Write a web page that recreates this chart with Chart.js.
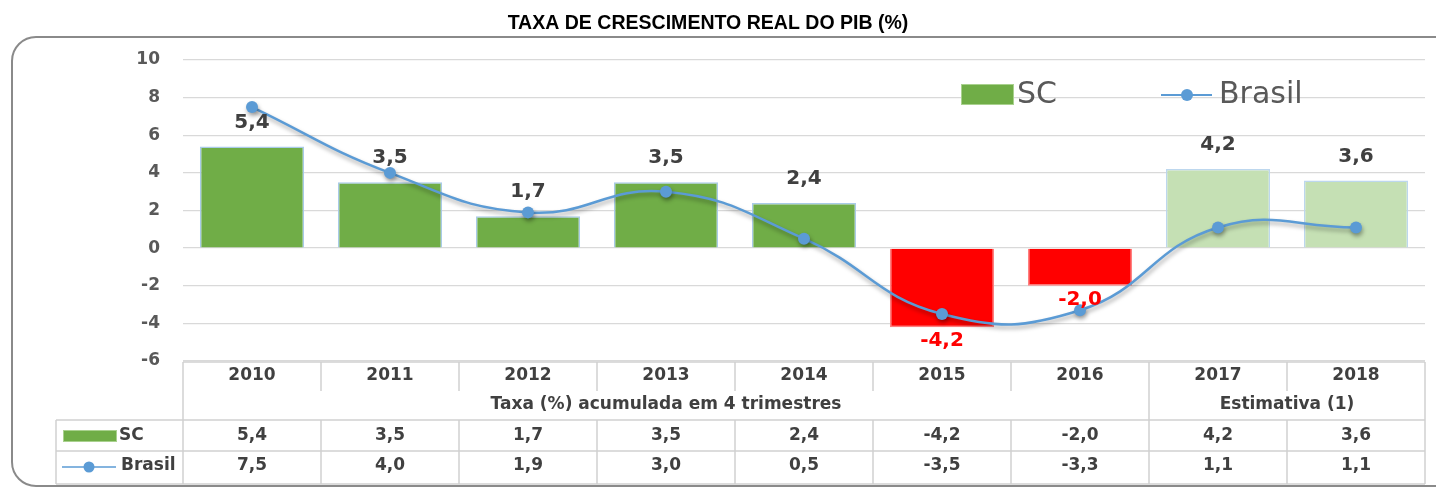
<!DOCTYPE html>
<html>
<head>
<meta charset="utf-8">
<script src="https://cdn.jsdelivr.net/npm/chart.js@4.4.0/dist/chart.umd.min.js"></script>
<style>
html,body{margin:0;padding:0;background:#fff;}
#wrap{width:1436px;height:488px;position:relative;}
canvas{display:block;}
</style>
</head>
<body>
<div id="wrap"><canvas id="c" width="1436" height="488"></canvas></div>
<script>
// ---- data ----
const chartTitle = 'TAXA DE CRESCIMENTO REAL DO PIB (%)';
const years = ['2010','2011','2012','2013','2014','2015','2016','2017','2018'];
const scValues = [5.4, 3.5, 1.7, 3.5, 2.4, -4.2, -2.0, 4.2, 3.6];
const brasilValues = [7.5, 4.0, 1.9, 3.0, 0.5, -3.5, -3.3, 1.1, 1.1];
const estimateYears = ['2017', '2018'];
const seriesNames = ['SC', 'Brasil'];
const groupLabels = ['Taxa (%) acumulada em 4 trimestres', 'Estimativa (1)'];
const yMin = -6, yMax = 10, yStep = 2;

// ---- styles ----
const GREEN = '#70AD47', LIGHT_GREEN = '#C5E0B4', RED = '#FF0000', BLUE = '#5B9BD5';
const TEXT = '#404040', AXIS_TEXT = '#595959', GRID = '#D9D9D9', TABLE_LINE = '#D0D0D0';
const FONT = '"DejaVu Sans", sans-serif';
const fmt = v => v.toFixed(1).replace('.', ',');
const isEstimate = i => estimateYears.includes(years[i]);
const barFill = scValues.map((v, i) => isEstimate(i) ? LIGHT_GREEN : (v < 0 ? RED : GREEN));
const barBorder = scValues.map((v, i) => isEstimate(i) ? '#BDD7EE' : (v < 0 ? '#FF8080' : '#A9CBE8'));

const framePlugin = {
  id: 'frame',
  beforeDraw(chart) {
    const ctx = chart.ctx;
    ctx.save();
    ctx.fillStyle = '#fff';
    ctx.fillRect(0, 0, chart.width, chart.height);
    ctx.strokeStyle = '#8A8A8A';
    ctx.lineWidth = 2;
    ctx.beginPath();
    ctx.roundRect(12, 37, 1460, 449, 24);
    ctx.stroke();
    // title (condensed)
    ctx.fillStyle = '#000';
    ctx.font = 'bold 21px "Liberation Sans", Arial, sans-serif';
    ctx.textAlign = 'center';
    ctx.textBaseline = 'middle';
    ctx.translate(708, 23);
    ctx.scale(0.93, 1);
    ctx.fillText(chartTitle, 0, 0);
    ctx.restore();
  }
};

const shadowPlugin = {
  id: 'lineShadow',
  beforeDatasetDraw(chart, args) {
    if (args.index === 0) {
      const ctx = chart.ctx;
      ctx.save();
      ctx.shadowColor = 'rgba(0,0,0,0.35)';
      ctx.shadowBlur = 4;
      ctx.shadowOffsetX = 1;
      ctx.shadowOffsetY = 3;
    }
  },
  afterDatasetDraw(chart, args) {
    if (args.index === 0) chart.ctx.restore();
  }
};

const labelsLegendPlugin = {
  id: 'labelsLegend',
  afterDatasetsDraw(chart) {
    const ctx = chart.ctx;
    ctx.save();
    // bar value labels
    const meta = chart.getDatasetMeta(1);
    ctx.font = 'bold 20px ' + FONT;
    ctx.textAlign = 'center';
    ctx.textBaseline = 'middle';
    meta.data.forEach((bar, i) => {
      const v = scValues[i];
      ctx.fillStyle = v < 0 ? RED : TEXT;
      ctx.fillText(fmt(v), bar.x, v >= 0 ? bar.y - 24 : bar.y + 14);
    });
    // legend inside plot
    ctx.fillStyle = GREEN;
    ctx.fillRect(961, 84, 53, 21);
    ctx.strokeStyle = '#A9D18E';
    ctx.lineWidth = 1;
    ctx.strokeRect(961.5, 84.5, 52, 20);
    ctx.font = '30px ' + FONT;
    ctx.textAlign = 'left';
    ctx.fillStyle = AXIS_TEXT;
    ctx.fillText(seriesNames[0], 1017, 95);
    ctx.strokeStyle = BLUE;
    ctx.lineWidth = 2;
    ctx.beginPath(); ctx.moveTo(1161, 95); ctx.lineTo(1212, 95); ctx.stroke();
    ctx.fillStyle = BLUE;
    ctx.beginPath(); ctx.arc(1187, 95, 6, 0, Math.PI * 2); ctx.fill();
    ctx.fillStyle = AXIS_TEXT;
    ctx.fillText(seriesNames[1], 1219, 95);
    ctx.restore();
  }
};

const tablePlugin = {
  id: 'dataTable',
  afterDraw(chart) {
    const ctx = chart.ctx;
    const ca = chart.chartArea;
    const xs = chart.scales.x;
    const n = years.length;
    const cw = (ca.right - ca.left) / n;
    const L = ca.left, R = ca.right, T = ca.bottom + 1;
    const yYear = T + 29, yGroup = T + 58, ySc = T + 89, yBr = T + 122;
    const LL = 56;
    const split = years.indexOf(estimateYears[0]);
    ctx.save();
    ctx.strokeStyle = TABLE_LINE;
    ctx.lineWidth = 1.5;
    const line = (x1, y1, x2, y2) => { ctx.beginPath(); ctx.moveTo(x1, y1); ctx.lineTo(x2, y2); ctx.stroke(); };
    line(L, T, R, T);
    line(LL, yGroup, R, yGroup);
    line(LL, ySc, R, ySc);
    line(LL, yBr, R, yBr);
    line(L, T, L, yBr);
    line(R, T, R, yBr);
    line(LL, yGroup, LL, yBr);
    for (let i = 1; i < n; i++) {
      const bx = L + i * cw;
      line(bx, T, bx, i === split ? yGroup : yYear);
      line(bx, yGroup, bx, yBr);
    }
    ctx.fillStyle = TEXT;
    ctx.font = 'bold 17px ' + FONT;
    ctx.textAlign = 'center';
    ctx.textBaseline = 'middle';
    years.forEach((yr, i) => {
      const cx = xs.getPixelForValue(i);
      ctx.fillText(yr, cx, T + 14);
      ctx.fillText(fmt(scValues[i]), cx, T + 74);
      ctx.fillText(fmt(brasilValues[i]), cx, T + 104);
    });
    const splitX = L + split * cw;
    ctx.fillText(groupLabels[0], (L + splitX) / 2, T + 43);
    ctx.fillText(groupLabels[1], (splitX + R) / 2, T + 43);
    // row keys
    ctx.fillStyle = GREEN;
    ctx.fillRect(63, 430, 54, 12);
    ctx.strokeStyle = '#A9D18E';
    ctx.lineWidth = 1;
    ctx.strokeRect(63.5, 430.5, 53, 11);
    ctx.strokeStyle = BLUE;
    ctx.lineWidth = 1.5;
    line(62, T + 105, 116, T + 105);
    ctx.fillStyle = BLUE;
    ctx.beginPath(); ctx.arc(89, T + 105, 5.5, 0, Math.PI * 2); ctx.fill();
    ctx.fillStyle = TEXT;
    ctx.textAlign = 'left';
    ctx.fillText(seriesNames[0], 119, T + 74);
    ctx.fillText(seriesNames[1], 121, T + 104);
    ctx.restore();
  }
};

new Chart(document.getElementById('c'), {
  type: 'bar',
  data: {
    labels: years,
    datasets: [
      {
        type: 'line',
        label: seriesNames[1],
        data: brasilValues,
        borderColor: BLUE,
        borderWidth: 2.5,
        backgroundColor: BLUE,
        pointRadius: 6,
        pointBackgroundColor: BLUE,
        pointBorderColor: BLUE,
        pointBorderWidth: 0,
        tension: 0.45,
        fill: false,
        order: 0
      },
      {
        type: 'bar',
        label: seriesNames[0],
        data: scValues,
        backgroundColor: barFill,
        borderColor: barBorder,
        borderWidth: 1.5,
        barPercentage: 0.755,
        categoryPercentage: 1,
        order: 1
      }
    ]
  },
  options: {
    responsive: false,
    animation: false,
    devicePixelRatio: 1,
    layout: { padding: { top: 60, right: 11, bottom: 127, left: 0 } },
    plugins: { legend: { display: false }, tooltip: { enabled: false }, title: { display: false } },
    scales: {
      x: { display: false },
      y: {
        min: yMin, max: yMax,
        afterFit(scale) { scale.width = 183; },
        ticks: { stepSize: yStep, color: AXIS_TEXT, font: { family: FONT, size: 17, weight: 'bold' }, padding: 23 },
        grid: { color: GRID, lineWidth: 1.3, drawTicks: false },
        border: { display: false }
      }
    }
  },
  plugins: [framePlugin, shadowPlugin, labelsLegendPlugin, tablePlugin]
});
</script>
</body>
</html>
